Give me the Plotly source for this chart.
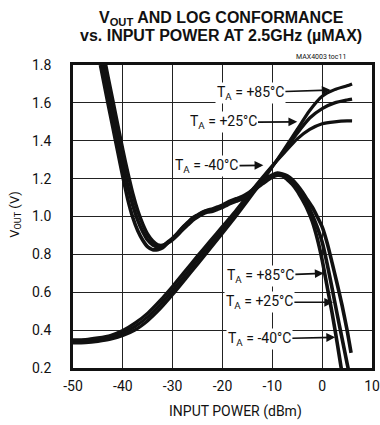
import plotly.graph_objects as go

# ---- V_OUT vs input power, one curve per ambient temperature ----
vout_x = [-50, -47.5, -45, -42.5, -40, -37.5, -35, -32.5, -30, -27.5, -25, -22.5,
          -20, -17.5, -15, -12.5, -10, -7.5, -5, -2.5, 0, 2.5, 5, 6]
vout_p85 = [0.332, 0.334, 0.341, 0.352, 0.372, 0.402, 0.450, 0.513, 0.588, 0.668, 0.748, 0.830,
            0.912, 0.995, 1.082, 1.170, 1.262, 1.360, 1.460, 1.560, 1.635, 1.670, 1.690, 1.700]
vout_p25 = [0.340, 0.342, 0.350, 0.362, 0.385, 0.420, 0.470, 0.535, 0.610, 0.690, 0.770, 0.850,
            0.930, 1.010, 1.095, 1.180, 1.265, 1.350, 1.440, 1.520, 1.570, 1.600, 1.615, 1.620]
vout_m40 = [0.348, 0.350, 0.359, 0.372, 0.398, 0.438, 0.490, 0.557, 0.632, 0.712, 0.792, 0.870,
            0.948, 1.025, 1.108, 1.190, 1.268, 1.340, 1.410, 1.460, 1.490, 1.500, 1.505, 1.505]

# ---- log conformance curves (plotted on the same vertical scale) ----
conf_x = [-44.5, -43, -42, -41, -40, -39, -38, -37, -36, -35, -34, -33, -32, -31, -30,
          -29, -28, -27, -26, -25, -24, -23, -22, -21, -20, -19, -18, -17, -16, -15,
          -14, -13, -12, -11, -10, -9, -8, -7, -6, -5, -4, -3, -2, -1, 0, 1, 2, 3, 4, 5, 6]
conf_x_p85 = [-44.5, -43, -42, -41, -40, -39, -38, -37, -36, -35, -34, -33, -32, -31, -30,
              -29, -28, -27, -26, -25, -24, -23, -22, -21, -20, -19, -18, -17, -16, -15,
              -14, -13, -12, -11, -10, -9, -8, -7, -6, -5, -4, -3, -2, -1, 0, 1, 2, 3, 4, 5, 5.8]
conf_p85 = [1.80, 1.60, 1.47, 1.34, 1.21, 1.09, 0.995, 0.925, 0.875, 0.84, 0.825, 0.825, 0.835,
            0.86, 0.885, 0.912, 0.942, 0.968, 0.993, 1.008, 1.023, 1.033, 1.04, 1.05, 1.06,
            1.075, 1.086, 1.096, 1.106, 1.121, 1.141, 1.165, 1.186, 1.206, 1.22, 1.23, 1.225,
            1.215, 1.195, 1.165, 1.13, 1.09, 1.05, 1.0, 0.945, 0.86, 0.755, 0.645, 0.53, 0.40, 0.28]
conf_p25 = [1.87, 1.67, 1.54, 1.41, 1.28, 1.16, 1.06, 0.98, 0.92, 0.875, 0.85, 0.84, 0.845,
            0.865, 0.885, 0.91, 0.94, 0.965, 0.99, 1.005, 1.02, 1.03, 1.035, 1.045, 1.055,
            1.07, 1.08, 1.09, 1.10, 1.115, 1.135, 1.16, 1.18, 1.20, 1.215, 1.225, 1.22,
            1.205, 1.185, 1.15, 1.11, 1.065, 1.01, 0.945, 0.865, 0.75, 0.62, 0.485, 0.355, 0.225, 0.10]
conf_m40 = [1.94, 1.74, 1.61, 1.48, 1.35, 1.23, 1.12, 1.03, 0.96, 0.905, 0.87, 0.85, 0.848,
            0.86, 0.878, 0.902, 0.93, 0.955, 0.98, 0.998, 1.013, 1.023, 1.028, 1.038, 1.048,
            1.062, 1.073, 1.083, 1.093, 1.108, 1.128, 1.152, 1.172, 1.192, 1.208, 1.218, 1.215,
            1.195, 1.17, 1.135, 1.09, 1.04, 0.975, 0.885, 0.77, 0.63, 0.49, 0.335, 0.17, 0.0, -0.2]

x_ticks = [-50, -40, -30, -20, -10, 0, 10]
x_tick_text = ["-50", "-40", "-30", "-20", "-10", "0", "10"]
y_ticks = [0.2, 0.4, 0.6, 0.8, 1.0, 1.2, 1.4, 1.6, 1.8]

INK = "#111111"
NARROW = "Roboto, Liberation Sans, Arial, sans-serif"
BOLD = "Liberation Sans, Arial, sans-serif"

fig = go.Figure()

for y in (vout_p85, vout_p25, vout_m40):
    fig.add_trace(go.Scatter(x=vout_x, y=y, mode="lines",
                             line=dict(color=INK, width=3.2, shape="spline", smoothing=0.6),
                             showlegend=False, hoverinfo="skip"))

for x, y in ((conf_x_p85, conf_p85), (conf_x, conf_p25), (conf_x, conf_m40)):
    fig.add_trace(go.Scatter(x=x, y=y, mode="lines",
                             line=dict(color=INK, width=3.6, shape="spline", smoothing=0.6),
                             showlegend=False, hoverinfo="skip"))

# temperature call-outs: (label, text x, text y, arrow tip x, arrow tip y)
callouts = [
    ("T<sub>A</sub> = +85°C", -14.4, 1.654, 1.7, 1.668),
    ("T<sub>A</sub> = +25°C", -19.9, 1.497, -5.0, 1.500),
    ("T<sub>A</sub> = -40°C", -23.2, 1.267, -11.8, 1.270),
    ("T<sub>A</sub> = +85°C", -12.4, 0.688, 0.3, 0.700),
    ("T<sub>A</sub> = +25°C", -12.6, 0.547, 2.2, 0.547),
    ("T<sub>A</sub> = -40°C", -12.6, 0.354, 2.6, 0.362),
]
for label, tx, ty, hx, hy in callouts:
    fig.add_annotation(x=hx, y=hy, ax=tx, ay=ty, xref="x", yref="y", axref="x", ayref="y",
                       text=label, showarrow=True, arrowhead=2, arrowsize=1.1, arrowwidth=1.6,
                       arrowcolor=INK, bgcolor="white", borderpad=1,
                       font=dict(family=NARROW, size=14, color=INK))

# title block
fig.add_annotation(x=0.495, y=1.152, xref="paper", yref="paper", showarrow=False,
                   xanchor="center", yanchor="middle",
                   text="<b>V<sub>OUT</sub> AND LOG CONFORMANCE</b>",
                   font=dict(family=BOLD, size=16, color=INK))
fig.add_annotation(x=0.495, y=1.096, xref="paper", yref="paper", showarrow=False,
                   xanchor="center", yanchor="middle",
                   text="<b>vs. INPUT POWER AT 2.5GHz (µMAX)</b>",
                   font=dict(family=BOLD, size=16, color=INK))
fig.add_annotation(x=0.739, y=1.026, xref="paper", yref="paper", showarrow=False,
                   xanchor="left", yanchor="middle", text="MAX4003 toc11",
                   font=dict(family=NARROW, size=7, color=INK))

# axis titles
fig.add_annotation(x=-0.195, y=0.508, xref="paper", yref="paper", showarrow=False,
                   xanchor="center", yanchor="middle",
                   text="V<sub>OUT</sub> (V)", textangle=-90,
                   font=dict(family=NARROW, size=13, color=INK))
fig.add_annotation(x=0.544, y=-0.145, xref="paper", yref="paper", showarrow=False,
                   xanchor="center", yanchor="middle",
                   text="INPUT POWER (dBm)",
                   font=dict(family=NARROW, size=14, color=INK))

axis_common = dict(showgrid=True, gridcolor="#222222", gridwidth=1,
                   showline=True, linecolor=INK, linewidth=2.5, mirror=True,
                   zeroline=False, ticks="", tickfont=dict(family=NARROW, size=14, color=INK))

fig.update_xaxes(range=[-50, 10], tickvals=x_ticks, ticktext=x_tick_text,
                 ticklabelstandoff=3, ticklabeloverflow="allow", **axis_common)
fig.update_yaxes(range=[0.2, 1.8], tickvals=y_ticks, tickformat=".1f",
                 ticklabelstandoff=16, **axis_common)

fig.update_layout(width=380, height=425, autosize=False,
                  margin=dict(l=73, r=0, t=65, b=57),
                  paper_bgcolor="white", plot_bgcolor="white")

fig.write_html("out.html")
